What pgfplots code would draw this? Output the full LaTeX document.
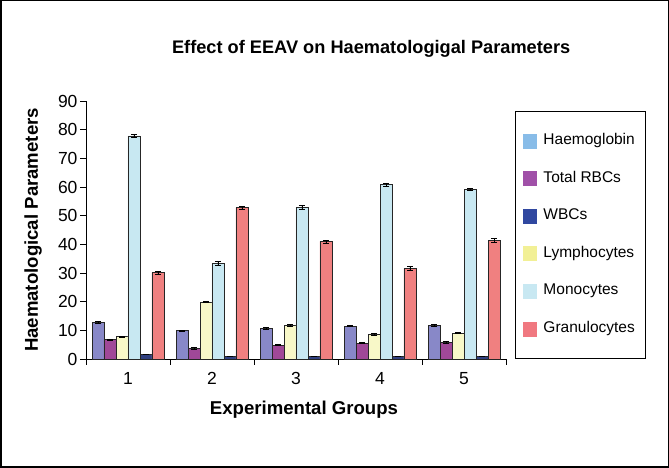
\documentclass[border=0pt]{standalone}
\usepackage{fontspec}
\setmainfont{Liberation Sans}
\usepackage{pgfplots}
\pgfplotsset{compat=1.18}
\definecolor{cHb}{HTML}{8888C8}
\definecolor{cRBC}{HTML}{A04898}
\definecolor{cLym}{HTML}{F8F8C8}
\definecolor{cMon}{HTML}{C8E8F2}
\definecolor{cWBC}{HTML}{304080}
\definecolor{cGra}{HTML}{F08080}
\definecolor{lHb}{HTML}{88BCE8}
\definecolor{lRBC}{HTML}{A050A8}
\definecolor{lWBC}{HTML}{3048A0}
\definecolor{lLym}{HTML}{F2F096}
\definecolor{lMon}{HTML}{C8E8F2}
\definecolor{lGra}{HTML}{F07880}
\pgfplotsset{
  errb/.style={error bars/y dir=both, error bars/y explicit,
    error bars/error bar style={line width=0.8pt, black},
    error bars/error mark options={line width=0.8pt, mark size=3pt, rotate=90, black}},
  barst/.style={ybar, bar width=12pt, bar shift=0pt, draw=black!85, line width=0.9pt, fill=#1, forget plot, errb},
}
\begin{document}
\begin{tikzpicture}[x=1pt,y=1pt]
\draw[line width=1.5pt] (0.75,0.75) rectangle (668.25,467.25);
\begin{axis}[
  at={(86pt,109pt)}, anchor=south west,
  scale only axis, width=420pt, height=258pt,
  xmin=0.5, xmax=5.5, ymin=0, ymax=90,
  axis x line*=bottom, axis y line*=left,
  axis line style={-, line width=0.8pt, black},
  xtick={1,2,3,4,5}, xticklabels={1,2,3,4,5},
  major x tick style={draw=none},
  minor xtick={0.5,1.5,2.5,3.5,4.5,5.5},
  minor x tick style={line width=0.8pt, black},
  minor tick length=6pt,
  ytick={0,10,...,90},
  major tick length=6pt,
  tick align=outside,
  y tick style={line width=0.8pt, black},
  tick label style={font=\fontsize{17.5}{20}\selectfont},
  /pgf/number format/assume math mode=true,
  yticklabel style={xshift=1pt},
  xticklabel style={yshift=-4pt},
  title={Effect of EEAV on Haematologigal Parameters},
  title style={at={(axis description cs:0.679,1.178)}, anchor=center, font=\fontsize{18.2}{21}\selectfont\bfseries},
  xlabel={Experimental Groups},
  xlabel style={at={(axis description cs:0.519,-0.198)}, anchor=center, font=\fontsize{18.6}{21}\selectfont\bfseries},
  ylabel={Haematological Parameters},
  ylabel style={at={(axis description cs:-0.126,0.5)}, anchor=center, rotate=0, font=\fontsize{18.6}{21}\selectfont\bfseries},
  legend style={at={(axis description cs:1.0214,0.961)}, anchor=north west,
     draw=black, line width=1pt, font=\fontsize{15.5}{17}\selectfont,
     row sep=22.6pt, inner xsep=8pt, inner ysep=22pt,
     nodes={inner xsep=3pt, inner ysep=0pt, text height=10pt, text depth=3pt}},
  legend cell align=left,
  legend image code/.code={\fill[draw=none,#1] (0pt,-7.5pt) rectangle (14pt,7.5pt);},
  clip=false,
]
% group centres at 1..5; six adjacent bars of width 12/84 axis units
\addplot[barst=cHb] coordinates {(0.6429,12.7)+-(0,0.3) (1.6429,9.8)+-(0,0.2) (2.6429,10.7)+-(0,0.2) (3.6429,11.5)+-(0,0.3) (4.6429,11.7)+-(0,0.2)};
\addplot[barst=cRBC] coordinates {(0.7857,6.7)+-(0,0.3) (1.7857,3.7)+-(0,0.2) (2.7857,4.8)+-(0,0.2) (3.7857,5.5)+-(0,0.2) (4.7857,5.8)+-(0,0.2)};
\addplot[barst=cLym] coordinates {(0.9286,7.7)+-(0,0.3) (1.9286,19.9)+-(0,0.2) (2.9286,11.7)+-(0,0.2) (3.9286,8.6)+-(0,0.3) (4.9286,9.0)+-(0,0.2)};
\addplot[barst=cMon] coordinates {(1.0714,77.8)+-(0,0.4) (2.0714,33.4)+-(0,0.8) (3.0714,52.9)+-(0,0.6) (4.0714,60.8)+-(0,0.6) (5.0714,59.2)+-(0,0.3)};
\addplot[barst=cWBC] coordinates {(1.2143,1.6)+-(0,0.1) (2.2143,0.9)+-(0,0.1) (3.2143,0.9)+-(0,0.1) (4.2143,0.9)+-(0,0.1) (5.2143,0.9)+-(0,0.1)};
\addplot[barst=cGra] coordinates {(1.3571,30.1)+-(0,0.5) (2.3571,52.8)+-(0,0.5) (3.3571,41.0)+-(0,0.5) (4.3571,31.6)+-(0,0.6) (5.3571,41.4)+-(0,0.6)};
\addlegendimage{fill=lHb}\addlegendentry{\hspace{3pt}Haemoglobin}
\addlegendimage{fill=lRBC}\addlegendentry{\hspace{3pt}Total RBCs}
\addlegendimage{fill=lWBC}\addlegendentry{\hspace{3pt}WBCs}
\addlegendimage{fill=lLym}\addlegendentry{\hspace{3pt}Lymphocytes}
\addlegendimage{fill=lMon}\addlegendentry{\hspace{3pt}Monocytes}
\addlegendimage{fill=lGra}\addlegendentry{\hspace{3pt}Granulocytes}
\end{axis}
\end{tikzpicture}
\end{document}
